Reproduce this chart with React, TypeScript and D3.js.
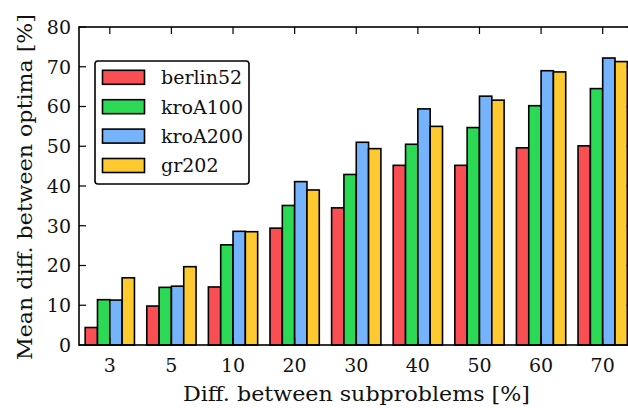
import React from "react";
import * as d3 from "d3";

const categories = ["3", "5", "10", "20", "30", "40", "50", "60", "70"];
const seriesNames = ["berlin52", "kroA100", "kroA200", "gr202"];
const berlin52 = [4.4, 9.8, 14.6, 29.4, 34.5, 45.2, 45.2, 49.6, 50.1];
const kroA100 = [11.4, 14.5, 25.2, 35.1, 42.9, 50.5, 54.7, 60.2, 64.5];
const kroA200 = [11.3, 14.8, 28.6, 41.1, 51.0, 59.4, 62.6, 69.0, 72.2];
const gr202 = [16.9, 19.7, 28.5, 39.0, 49.4, 55.0, 61.6, 68.7, 71.3];
const yTicks = [0, 10, 20, 30, 40, 50, 60, 70, 80];
const colors = ["#f94f52", "#2bd954", "#76b3fd", "#ffc930"];

const series = [berlin52, kroA100, kroA200, gr202];

export default function App() {
  const W = 628, H = 408;
  const left = 79, right = 633.5, top = 27, bottom = 345;
  const x = d3.scaleBand<string>().domain(categories).range([left, right]).paddingInner(0).paddingOuter(0);
  const y = d3.scaleLinear().domain([0, 80]).range([bottom, top]);
  const bw = x.bandwidth();
  const barW = bw * 0.2;
  const font = "'DejaVu Serif', serif";
  const tickLen = 7;

  return (
    <svg width={W} height={H} style={{ position: "absolute", left: 0, top: 0, background: "#fff" }}>
      {series.map((vals, s) =>
        vals.map((v, i) => {
          const cx = (x(categories[i]) as number) + bw / 2;
          const x0 = cx - bw * 0.4 + s * barW;
          return (
            <rect key={`${s}-${i}`} x={x0} y={y(v)} width={barW} height={y(0) - y(v)}
              fill={colors[s]} stroke="#000" strokeWidth={1.6} />
          );
        })
      )}
      {/* frame */}
      <rect x={left} y={top} width={right - left} height={bottom - top} fill="none" stroke="#000" strokeWidth={1.6} />
      {/* y ticks */}
      {yTicks.map((t) => (
        <g key={`y${t}`}>
          <line x1={left} x2={left + tickLen} y1={y(t)} y2={y(t)} stroke="#000" strokeWidth={1.2} />
          <line x1={right} x2={right - tickLen} y1={y(t)} y2={y(t)} stroke="#000" strokeWidth={1.2} />
          <text x={left - 8} y={y(t)} dy="0.36em" textAnchor="end" fontFamily={font} fontSize={19} fill="#111">{t}</text>
        </g>
      ))}
      {/* x ticks */}
      {categories.map((c) => {
        const cx = (x(c) as number) + bw / 2;
        return (
          <g key={`x${c}`}>
            <line x1={cx} x2={cx} y1={top} y2={top + tickLen} stroke="#000" strokeWidth={1.2} />
            <line x1={cx} x2={cx} y1={bottom} y2={bottom - tickLen} stroke="#000" strokeWidth={1.2} />
            <text x={cx} y={372} textAnchor="middle" fontFamily={font} fontSize={19} fill="#111">{c}</text>
          </g>
        );
      })}
      {/* axis titles */}
      <text x={183} y={401} textLength={347} lengthAdjust="spacingAndGlyphs" fontFamily={font} fontSize={20} fill="#111">
        Diff. between subproblems [%]
      </text>
      <text transform={`translate(32, 360) rotate(-90)`} textLength={346} lengthAdjust="spacingAndGlyphs" fontFamily={font} fontSize={20} fill="#111">
        Mean diff. between optima [%]
      </text>
      {/* legend */}
      <rect x={95} y={61} width={154} height={123} rx={3} ry={3} fill="#fff" stroke="#000" strokeWidth={1.6} />
      {seriesNames.map((n, s) => {
        const cy = 77.3 + s * 29.4;
        return (
          <g key={n}>
            <rect x={102.5} y={cy - 7} width={42} height={14} fill={colors[s]} stroke="#000" strokeWidth={1.6} />
            <text x={161} y={cy} dy="0.36em" fontFamily={font} fontSize={19} fill="#111">{n}</text>
          </g>
        );
      })}
    </svg>
  );
}
